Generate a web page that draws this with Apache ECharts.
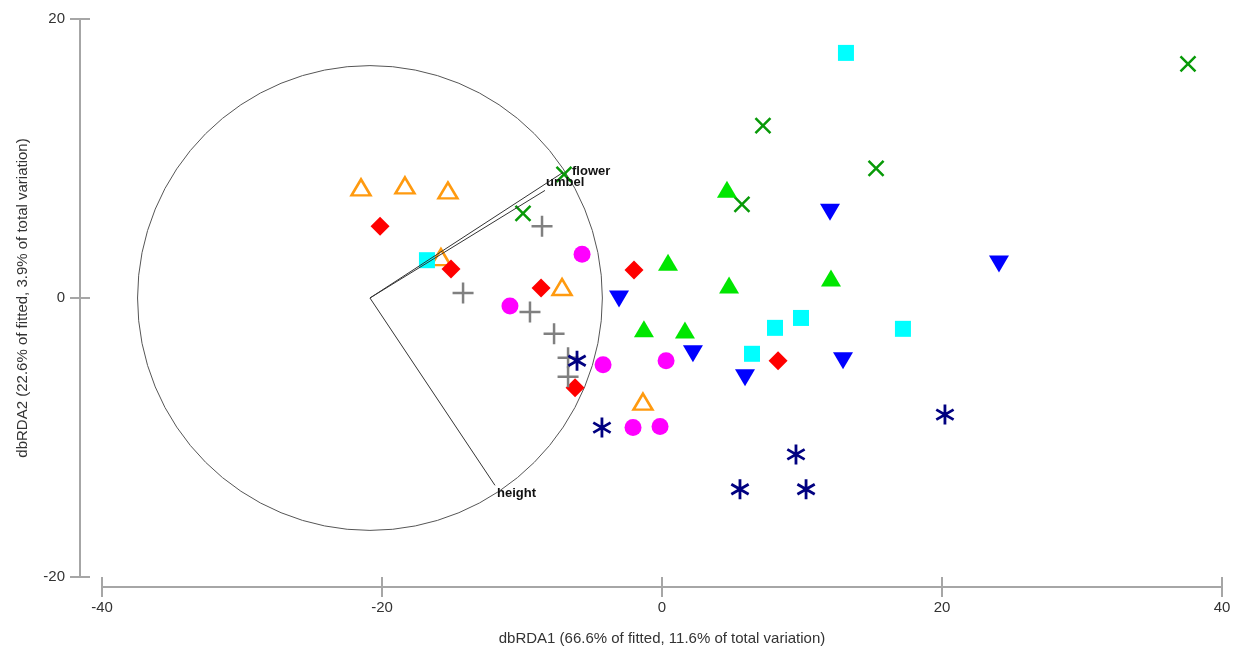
<!DOCTYPE html>
<html>
<head>
<meta charset="utf-8">
<script src="https://cdn.jsdelivr.net/npm/echarts@6/dist/echarts.min.js"></script>
<style>
  html, body { margin: 0; padding: 0; background: #fff; }
  #dashboard { width: 1243px; height: 651px; }
</style>
</head>
<body>
<div id="dashboard"></div>
<script>
var chartDom = document.getElementById('dashboard');
var myChart = echarts.init(chartDom);
var option;

// axis ticks
var xTicks = [-40, -20, 0, 20, 40];
var yTicks = [-20, 0, 20];

// sample scores [dbRDA1, dbRDA2], one list per group
var orangeTri = [[-21.5, 7.93], [-18.36, 8.07], [-15.29, 7.71], [-15.79, 2.93], [-7.14, 0.79], [-1.36, -7.43]];
var redDiamond = [[-20.14, 5.14], [-15.07, 2.07], [-8.64, 0.71], [-2.0, 2.0], [-6.21, -6.43], [8.29, -4.5]];
var cyanSquare = [[-16.79, 2.71], [13.14, 17.57], [8.07, -2.14], [9.93, -1.43], [17.21, -2.21], [6.43, -4.0]];
var grayPlus = [[-8.57, 5.14], [-14.21, 0.36], [-9.43, -1.0], [-7.71, -2.57], [-6.71, -4.29], [-6.71, -5.64]];
var magentaCircle = [[-5.71, 3.14], [-10.86, -0.57], [-4.21, -4.79], [0.29, -4.5], [-2.07, -9.29], [-0.14, -9.21]];
var greenCross = [[-7.0, 8.86], [-9.93, 6.07], [7.21, 12.36], [5.71, 6.71], [15.29, 9.29], [37.57, 16.79]];
var limeTri = [[4.64, 7.79], [0.43, 2.57], [4.79, 0.93], [12.07, 1.43], [-1.29, -2.21], [1.64, -2.29]];
var blueDown = [[-3.07, -0.07], [12.0, 6.14], [24.07, 2.43], [2.21, -4.0], [5.93, -5.71], [12.93, -4.5]];
var navyStar = [[-6.07, -4.5], [-4.29, -9.29], [20.21, -8.36], [9.57, -11.21], [5.57, -13.71], [10.29, -13.71]];

// correlation circle and vectors
var circleCentre = [-20.86, 0];
var circleRadius = 16.6;
var vectorNames = ['flower', 'umbel', 'height'];
var vectorEnds = [[-7.07, 9.0], [-8.36, 7.71], [-11.93, -13.43]];

var labelShift = { flower: [9, -1], umbel: [1, -8], height: [2, 8] };

var axisGray = '#a6a6a6';
var labelFont = { color: '#333', fontSize: 15, fontFamily: 'Liberation Sans, Arial' };

function xAxisPart(inside, main) {
    return {
        type: 'value', min: -40, max: 40, interval: 20, position: 'bottom', offset: 10,
        splitLine: { show: false },
        axisLine: { show: main, onZero: false, lineStyle: { color: axisGray, width: 2 } },
        axisTick: { inside: inside, length: 10, lineStyle: { color: axisGray, width: 2 } },
        axisLabel: Object.assign({ show: main, margin: 13 }, labelFont),
        name: main ? 'dbRDA1 (66.6% of fitted, 11.6% of total variation)' : '',
        nameLocation: 'middle', nameGap: 44,
        nameTextStyle: labelFont
    };
}
function yAxisPart(inside, main) {
    return {
        type: 'value', min: -20, max: 20, interval: 20, position: 'left', offset: 22,
        splitLine: { show: false },
        axisLine: { show: main, onZero: false, lineStyle: { color: axisGray, width: 2 } },
        axisTick: { inside: inside, length: 10, lineStyle: { color: axisGray, width: 2 } },
        axisLabel: Object.assign({ show: main, margin: 15 }, labelFont),
        name: main ? 'dbRDA2 (22.6% of fitted, 3.9% of total variation)' : '',
        nameLocation: 'middle', nameGap: 50,
        nameTextStyle: labelFont
    };
}

function scatter(data, symbol, size, style, rotate) {
    return {
        type: 'scatter', data: data, symbol: symbol, symbolSize: size,
        symbolRotate: rotate || 0, symbolKeepAspect: true,
        itemStyle: Object.assign({ opacity: 1 }, style),
        emphasis: { disabled: true }, z: 3
    };
}

var plusPath = 'path://M0,10L20,10M10,0L10,20';
var crossPath = 'path://M0,0L10,10M0,10L10,0';
var starPath = 'path://M10,0L10,20M1.34,5L18.66,15M1.34,15L18.66,5';

option = {
    animation: false,
    grid: { left: 102, right: 21, top: 19, bottom: 64 },
    xAxis: [xAxisPart(false, true), xAxisPart(true, false)],
    yAxis: [yAxisPart(false, true), yAxisPart(true, false)],
    series: [
        {
            type: 'custom', clip: false, z: 2, silent: true,
            data: [[circleCentre[0], circleCentre[1], circleRadius]],
            renderItem: function (params, api) {
                var c = api.coord([api.value(0), api.value(1)]);
                var s = api.size([api.value(2), api.value(2)]);
                return {
                    type: 'circle',
                    shape: { cx: c[0], cy: c[1], r: s[0] },
                    style: { fill: 'none', stroke: '#555', lineWidth: 1 }
                };
            }
        },
        scatter(orangeTri, 'triangle', [19, 16], { color: 'rgba(255,255,255,0)', borderColor: '#ff9a0f', borderWidth: 2.5 }),
        scatter(redDiamond, 'diamond', [19, 19], { color: '#ff0000' }),
        scatter(cyanSquare, 'rect', [16, 16], { color: '#00ffff' }),
        scatter(grayPlus, plusPath, 21, { color: 'none', borderColor: '#808080', borderWidth: 2.5 }),
        scatter(magentaCircle, 'circle', 17, { color: '#ff00ff' }),
        scatter(greenCross, crossPath, 15, { color: 'none', borderColor: '#089a08', borderWidth: 2.5 }),
        scatter(limeTri, 'triangle', [20, 17], { color: '#00e600' }),
        scatter(blueDown, 'triangle', [20, 17], { color: '#0000ff' }, 180),
        scatter(navyStar, starPath, 20, { color: 'none', borderColor: '#000080', borderWidth: 2.8 }),
        {
            type: 'custom', clip: false, z: 4, silent: true,
            data: vectorEnds.map(function (e, i) { return [e[0], e[1], i]; }),
            renderItem: function (params, api) {
                var c = api.coord(circleCentre);
                var e = api.coord([api.value(0), api.value(1)]);
                var name = vectorNames[api.value(2)];
                var sh = labelShift[name];
                return {
                    type: 'group',
                    children: [
                        {
                            type: 'line',
                            shape: { x1: c[0], y1: c[1], x2: e[0], y2: e[1] },
                            style: { stroke: '#333', lineWidth: 1 }
                        },
                        {
                            type: 'text',
                            x: e[0] + sh[0], y: e[1] + sh[1],
                            style: {
                                text: name, fill: '#111', fontSize: 13, fontWeight: 'bold',
                                fontFamily: 'Liberation Sans, Arial',
                                align: 'left', verticalAlign: 'middle'
                            }
                        }
                    ]
                };
            }
        }
    ]
};

option && myChart.setOption(option);
</script>
</body>
</html>
